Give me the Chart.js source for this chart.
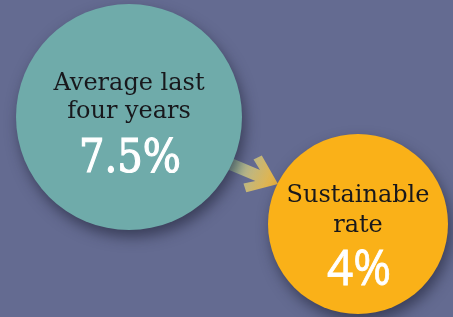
<!DOCTYPE html>
<html>
<head>
<meta charset="utf-8">
<script src="https://cdn.jsdelivr.net/npm/chart.js@4.4.1/dist/chart.umd.min.js"></script>
<style>
html,body{margin:0;padding:0;background:#646b91;}
#wrap{width:453px;height:317px;position:relative;}
</style>
</head>
<body>
<div id="wrap"><canvas id="c"></canvas></div>
<script>
// ---- data ----
const categories = [["Average last", "four years"], ["Sustainable", "rate"]];
const values = [7.5, 4];
const valueLabels = ["7.5%", "4%"];

// ---- layout (pixels in a 453x317 frame) ----
const centerX = [129, 358];
const centerY = [117, 224];
const radiusPx = [113, 90];
const fills = ["#6fabaa", "#fab118"];

const bgPlugin = {
  id: 'bg',
  beforeDraw(chart) {
    const ctx = chart.ctx;
    ctx.save();
    ctx.fillStyle = '#646b91';
    ctx.fillRect(0, 0, chart.width, chart.height);
    ctx.restore();
  }
};

const arrowPlugin = {
  id: 'arrow',
  beforeDatasetsDraw(chart) {
    const ctx = chart.ctx;
    const xs = chart.scales.x, ys = chart.scales.y;
    const tx = xs.getPixelForValue(278), ty = ys.getPixelForValue(184);
    const ang = Math.atan2(21, 50);
    ctx.save();
    ctx.translate(tx, ty);
    ctx.rotate(ang);
    const L = 62, hw = 6;
    const g = ctx.createLinearGradient(-L, 0, 0, 0);
    g.addColorStop(0, '#78b4ae');
    g.addColorStop(0.45, '#b9b789');
    g.addColorStop(1, '#efb43a');
    ctx.fillStyle = g;
    ctx.beginPath();
    ctx.moveTo(0, 0);
    ctx.lineTo(-26, -20);
    ctx.lineTo(-32, -13);
    ctx.lineTo(-22, -hw);
    ctx.lineTo(-L, -hw);
    ctx.lineTo(-L, hw);
    ctx.lineTo(-22, hw);
    ctx.lineTo(-32, 13);
    ctx.lineTo(-26, 20);
    ctx.closePath();
    ctx.fill();
    ctx.restore();
  }
};

const shadowPlugin = {
  id: 'shadow',
  beforeDatasetDraw(chart) {
    const ctx = chart.ctx;
    ctx.save();
    ctx.shadowColor = 'rgba(35,38,60,0.65)';
    ctx.shadowBlur = 14;
    ctx.shadowOffsetX = 3;
    ctx.shadowOffsetY = 7;
  },
  afterDatasetDraw(chart) {
    chart.ctx.restore();
  }
};

const textPlugin = {
  id: 'texts',
  afterDatasetsDraw(chart) {
    const ctx = chart.ctx;
    const pts = chart.getDatasetMeta(0).data;
    ctx.save();
    ctx.textAlign = 'center';
    ctx.textBaseline = 'alphabetic';
    // first circle
    let p = pts[0];
    ctx.fillStyle = '#18181c';
    ctx.font = '24px "DejaVu Serif"';
    ctx.fillText(categories[0][0], p.x, p.y - 27, 156);
    ctx.fillText(categories[0][1], p.x, p.y + 1, 156);
    ctx.fillStyle = '#ffffff';
    ctx.strokeStyle = '#ffffff';
    ctx.lineWidth = 1.2;
    ctx.font = '46px "DejaVu Serif"';
    ctx.fillText(valueLabels[0], p.x + 1, p.y + 55, 102);
    ctx.strokeText(valueLabels[0], p.x + 1, p.y + 55, 102);
    // second circle
    p = pts[1];
    ctx.fillStyle = '#18181c';
    ctx.font = '24px "DejaVu Serif"';
    ctx.fillText(categories[1][0], p.x, p.y - 22, 148);
    ctx.fillText(categories[1][1], p.x, p.y + 8, 148);
    ctx.fillStyle = '#ffffff';
    ctx.lineWidth = 0.8;
    ctx.font = '49px "Open Sans"';
    ctx.fillText(valueLabels[1], p.x + 1, p.y + 61, 64);
    ctx.strokeText(valueLabels[1], p.x + 1, p.y + 61, 64);
    ctx.restore();
  }
};

new Chart(document.getElementById('c'), {
  type: 'bubble',
  data: {
    labels: categories.map(c => c.join(' ')),
    datasets: [{
      label: 'Growth rate',
      data: values.map((v, i) => ({ x: centerX[i], y: centerY[i], r: radiusPx[i], v: v })),
      backgroundColor: fills,
      borderWidth: 0,
      hoverBorderWidth: 0,
      hoverRadius: 0,
      clip: false
    }]
  },
  options: {
    responsive: true,
    maintainAspectRatio: false,
    devicePixelRatio: 1,
    animation: false,
    events: [],
    layout: { padding: 0, autoPadding: false },
    plugins: { legend: { display: false }, tooltip: { enabled: false } },
    scales: {
      x: { type: 'linear', min: 0, max: 453, display: false },
      y: { type: 'linear', min: 0, max: 317, reverse: true, display: false }
    }
  },
  plugins: [bgPlugin, arrowPlugin, shadowPlugin, textPlugin]
});
</script>
</body>
</html>
